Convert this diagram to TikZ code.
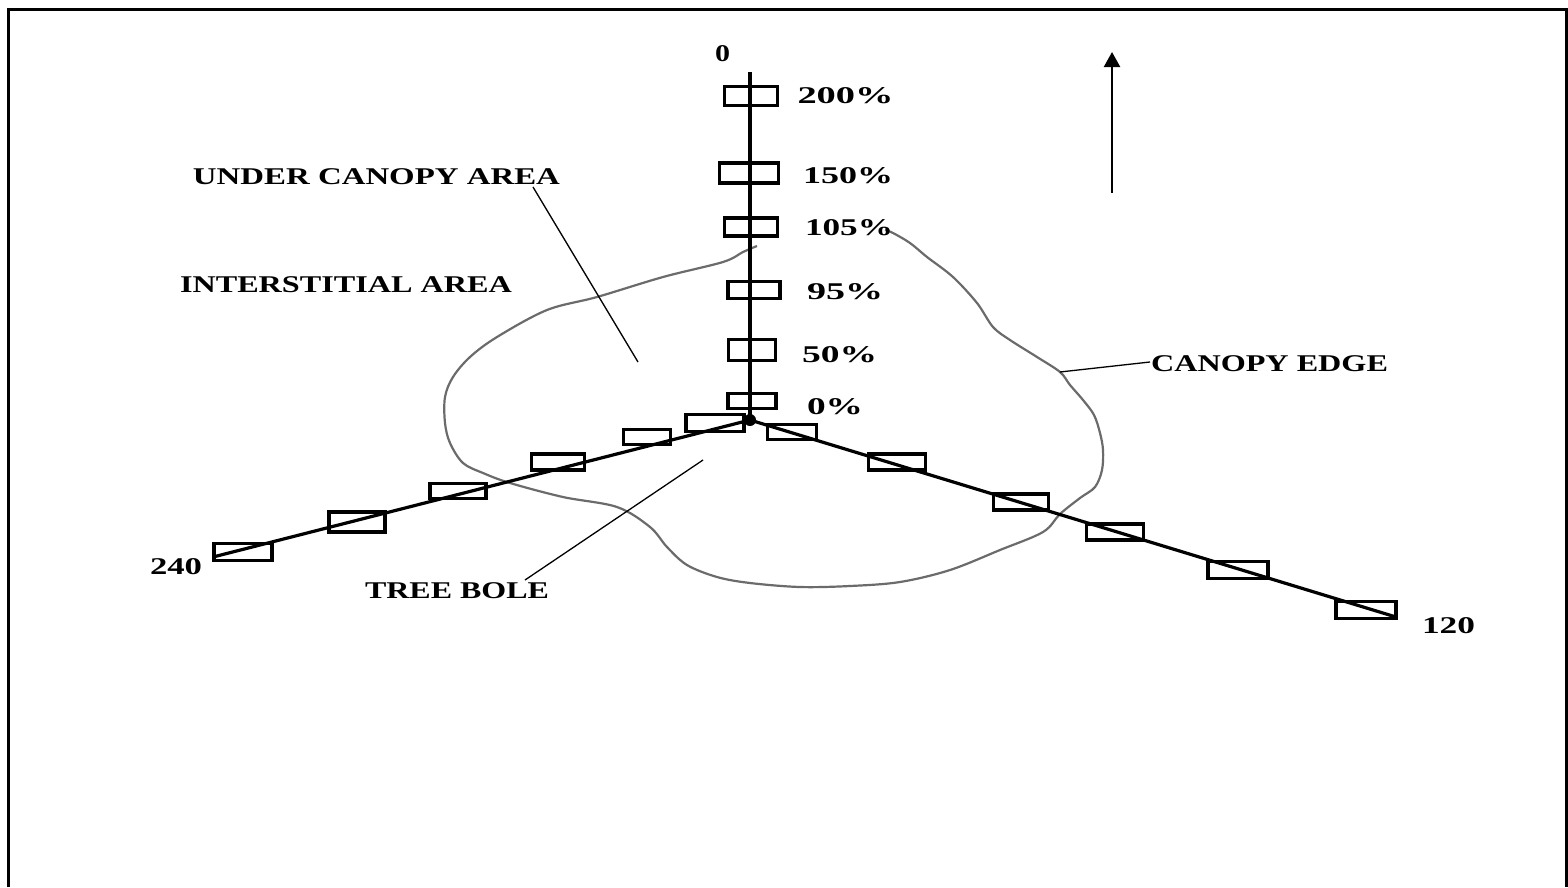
\documentclass[tikz,border=0pt]{standalone}
\usepackage{fontspec}
\setmainfont{Liberation Serif}
\usetikzlibrary{arrows.meta}
\newcommand{\lbl}[2]{\resizebox{#1}{\height}{#2}}
\begin{document}
\begin{tikzpicture}[x=1pt,y=-1pt,
  lab/.style={inner sep=0pt, anchor=center, font=\fontsize{24}{28}\selectfont\bfseries},
  sq/.style={draw, line width=3.3pt, inner sep=0pt, minimum width=#1},
  sq/.default=54pt,
  axisline/.style={line width=4pt},
  armline/.style={line width=3.2pt},
  leader/.style={line width=1.3pt},
  canopy/.style={draw=black!58, line width=2.2pt}]
\useasboundingbox (0,0) rectangle (1568,887);
% frame
\draw[line width=2.8pt] (8.5,887) -- (8.5,9.5) -- (1566.5,9.5) -- (1566.5,887);

% centre and axis ends
\coordinate (c) at (750,420);
\coordinate (top) at (750,72);
\coordinate (e240) at (213,557);
\coordinate (e120) at (1396,617);

% canopy edge
\draw[canopy] plot[smooth, tension=0.55] coordinates {
 (757,246) (743,252) (723,262) (663,277) (597,297) (547,310) (497,337)
 (470,357) (453,377) (445,397) (445,423) (450,443) (463,463) (483,473)
 (510,483) (563,497) (617,507) (650,527) (667,547) (687,565) (717,577)
 (750,583) (800,587) (850,586) (900,582) (950,570) (1000,550) (1043,532)
 (1060,514) (1080,498) (1095,487) (1102,470) (1103,450) (1100,433)
 (1094,415) (1083,400) (1070,385) (1060,372) (1037,357) (1010,340)
 (993,327) (977,303) (953,277) (927,257) (910,243) (893,233) (885,230)};

% axes
\draw[axisline] (c) -- (top);
\draw[armline] (c) -- (e240);
\draw[armline] (c) -- (e120);
\fill (c) circle (6pt);

% vertical boxes
\node[sq=53pt, minimum height=19pt] (v200) at (751,96) {};
\node[sq=59pt, minimum height=20pt] (v150) at (749,173) {};
\node[sq=53pt, minimum height=18pt] (v105) at (751,227) {};
\node[sq=52pt, minimum height=17pt] (v95) at (754,290) {};
\node[sq=47pt, minimum height=21pt] (v50) at (752,350) {};
\node[sq=48pt, minimum height=15pt] (v0) at (752,401) {};

% left arm boxes
\node[sq=58pt, minimum height=17pt] (l1) at (715,423) {};
\node[sq=47pt, minimum height=15pt] (l2) at (647,437) {};
\node[sq=53pt, minimum height=16pt] (l3) at (558,462) {};
\node[sq=56pt, minimum height=15pt] (l4) at (458,491) {};
\node[sq=56pt, minimum height=20pt] (l5) at (357,522) {};
\node[sq=58pt, minimum height=17pt] (l6) at (243,552) {};

% right arm boxes
\node[sq=49pt, minimum height=15pt] (r1) at (792,432) {};
\node[sq=57pt, minimum height=16pt] (r2) at (897,462) {};
\node[sq=55pt, minimum height=16pt] (r3) at (1021,502) {};
\node[sq=57pt, minimum height=16pt] (r4) at (1115,532) {};
\node[sq=60pt, minimum height=17pt] (r5) at (1238,570) {};
\node[sq=60pt, minimum height=17pt] (r6) at (1366,610) {};

% labels
\node[lab] (t0)   at (722.5,54)  {\lbl{15pt}{0}};
\node[lab] (p200) at (845.5,96)  {\lbl{96pt}{200\%}};
\node[lab] (p150) at (848,176)   {\lbl{90pt}{150\%}};
\node[lab] (p105) at (849,228)   {\lbl{88pt}{105\%}};
\node[lab] (p95)  at (845,292)   {\lbl{76pt}{95\%}};
\node[lab] (p50)  at (839.5,355) {\lbl{75pt}{50\%}};
\node[lab] (p0)   at (835,407)   {\lbl{56pt}{0\%}};
\node[lab] (uca)  at (376.5,177) {\lbl{367pt}{UNDER CANOPY AREA}};
\node[lab] (ia)   at (346,285)   {\lbl{332pt}{INTERSTITIAL AREA}};
\node[lab] (ce)   at (1269.5,364) {\lbl{237pt}{CANOPY EDGE}};
\node[lab] (tb)   at (457,591)   {\lbl{184pt}{TREE BOLE}};
\node[lab] (t240) at (176,567)   {\lbl{52pt}{240}};
\node[lab] (t120) at (1448.5,626) {\lbl{53pt}{120}};

% leaders
\coordinate (ucaA) at (533,187);
\coordinate (ucaB) at (638,362);
\draw[leader] (ucaA) -- (ucaB);
\coordinate (tbA) at (525,580);
\coordinate (tbB) at (703,460);
\draw[leader] (tbA) -- (tbB);
\coordinate (ceA) at (1150,362);
\coordinate (ceB) at (1060,372);
\draw[leader] (ceA) -- (ceB);

% north arrow
\coordinate (nA) at (1112,193);
\coordinate (nB) at (1112,52);
\draw[line width=2.3pt, -{Triangle[width=16pt,length=15pt]}] (nA) -- (nB);
\end{tikzpicture}
\end{document}
